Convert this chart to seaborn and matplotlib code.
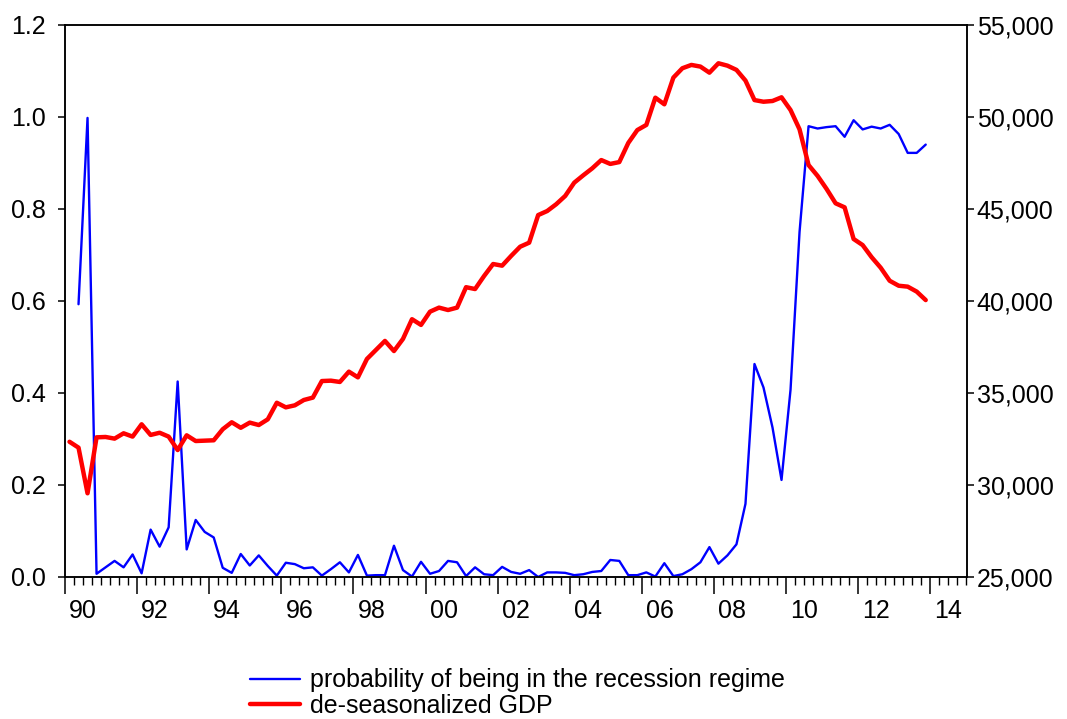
import numpy as np
import pandas as pd
import matplotlib
matplotlib.use("Agg")
import matplotlib.pyplot as plt
import seaborn as sns
from matplotlib.ticker import FixedLocator, FuncFormatter
from matplotlib.lines import Line2D

# ---------------- data (quarterly, 1990Q1 - 2013Q4) ----------------
quarters = pd.period_range("1990Q1", "2013Q4", freq="Q")

prob = [np.nan, 0.593, 0.998, 0.007, 0.021, 0.035, 0.021, 0.049, 0.008, 0.103,
        0.066, 0.108, 0.425, 0.060, 0.124, 0.098, 0.086, 0.020, 0.009, 0.050,
        0.025, 0.047, 0.024, 0.003, 0.031, 0.028, 0.019, 0.021, 0.003, 0.017,
        0.032, 0.010, 0.048, 0.003, 0.004, 0.004, 0.068, 0.015, 0.001, 0.033,
        0.007, 0.013, 0.035, 0.032, 0.002, 0.021, 0.006, 0.004, 0.022, 0.011,
        0.007, 0.015, 0.000, 0.010, 0.010, 0.009, 0.004, 0.006, 0.011, 0.013,
        0.037, 0.035, 0.004, 0.004, 0.010, 0.001, 0.030, 0.002, 0.006, 0.017,
        0.032, 0.065, 0.029, 0.047, 0.071, 0.159, 0.463, 0.412, 0.325, 0.211,
        0.407, 0.750, 0.980, 0.975, 0.978, 0.980, 0.957, 0.993, 0.973, 0.979,
        0.975, 0.983, 0.963, 0.922, 0.922, 0.940]

gdp = [32350, 32030, 29550, 32590, 32610, 32520, 32810, 32630, 33300, 32720,
       32840, 32630, 31900, 32700, 32390, 32410, 32430, 33030, 33410, 33110,
       33390, 33260, 33570, 34470, 34220, 34330, 34620, 34750, 35650, 35670,
       35600, 36160, 35850, 36850, 37340, 37830, 37280, 37940, 39010, 38700,
       39420, 39640, 39510, 39640, 40750, 40650, 41360, 42010, 41920, 42450,
       42950, 43170, 44670, 44890, 45260, 45710, 46430, 46830, 47210, 47660,
       47450, 47550, 48590, 49290, 49570, 51050, 50690, 52140, 52650, 52830,
       52740, 52410, 52920, 52790, 52560, 51980, 50920, 50830, 50870, 51070,
       50380, 49330, 47390, 46800, 46090, 45310, 45090, 43370, 43040, 42380,
       41810, 41100, 40830, 40780, 40510, 40050]

year_labels = ["90", "92", "94", "96", "98", "00", "02", "04",
               "06", "08", "10", "12", "14"]
left_ticks = [0.0, 0.2, 0.4, 0.6, 0.8, 1.0, 1.2]
right_ticks = [25000, 30000, 35000, 40000, 45000, 50000, 55000]

label_prob = "probability of being in the recession regime"
label_gdp = "de-seasonalized GDP"

# ---------------- frame ----------------
t = np.array([q.year + (q.quarter - 1) / 4 + 0.125 for q in quarters])
df = pd.DataFrame({"t": t, "prob": prob, "gdp": gdp})

sns.set_style("ticks")
plt.rcParams["font.family"] = ["Liberation Sans", "DejaVu Sans"]
plt.rcParams["axes.linewidth"] = 1.1
plt.rcParams["text.color"] = "black"
plt.rcParams["xtick.color"] = "black"
plt.rcParams["ytick.color"] = "black"
plt.rcParams["xtick.labelcolor"] = "black"
plt.rcParams["ytick.labelcolor"] = "black"
plt.rcParams["axes.edgecolor"] = "black"
plt.rcParams["legend.labelcolor"] = "black"

fig = plt.figure(figsize=(10.67, 7.19), dpi=100)
ax = fig.add_axes([65 / 1067, 1 - 577 / 719, 902 / 1067, 552 / 719])
ax2 = ax.twinx()

sns.lineplot(data=df, x="t", y="prob", ax=ax, color="#0000FF", linewidth=1.7,
             legend=False)
sns.lineplot(data=df, x="t", y="gdp", ax=ax2, color="#FF0000", linewidth=3.2,
             legend=False)

for a in (ax, ax2):
    for s in a.spines.values():
        s.set_visible(True)
        s.set_color("black")
        s.set_linewidth(1.1)
    a.set_xlabel("")
    a.set_ylabel("")

ax.set_xlim(1990, 2015.02)
ax.set_ylim(0, 1.2)
ax2.set_ylim(25000, 55000)

ax.set_yticks(left_ticks)
ax.yaxis.set_major_formatter(FuncFormatter(lambda v, p: f"{v:.1f}"))
ax2.set_yticks(right_ticks)
ax2.yaxis.set_major_formatter(FuncFormatter(lambda v, p: f"{int(v):,}"))

major_years = list(range(1990, 2015, 2))
ax.xaxis.set_major_locator(FixedLocator(major_years))
ax.xaxis.set_minor_locator(FixedLocator(list(np.arange(1990, 2015.01, 0.25))))
ax.tick_params(axis="x", which="major", direction="out", length=12, width=1.1,
               labelbottom=False, color="black")
ax.tick_params(axis="x", which="minor", direction="out", length=6, width=1.0,
               color="black")
ax.tick_params(axis="y", direction="out", length=5, width=1.1, labelsize=18,
               pad=9, colors="black")
ax2.tick_params(axis="y", direction="out", length=5, width=1.1, labelsize=18,
                pad=2, colors="black")

sec = ax.secondary_xaxis("bottom")
sec.set_xticks([y + 0.5 for y in major_years], labels=year_labels)
sec.tick_params(axis="x", length=0, labelsize=18, pad=16, labelcolor="black")
sec.spines["bottom"].set_visible(False)

handles = [Line2D([], [], color="#0000FF", linewidth=1.7),
           Line2D([], [], color="#FF0000", linewidth=3.2)]
leg = fig.legend(handles, [label_prob, label_gdp], loc="center left",
                 bbox_to_anchor=(250 / 1067, 1 - 693 / 719), frameon=False,
                 fontsize=18, handlelength=2.0, handletextpad=0.4,
                 labelspacing=0.05, borderpad=0, borderaxespad=0)
for txt in leg.get_texts():
    txt.set_color("black")

fig.savefig("out.png", dpi=100)
